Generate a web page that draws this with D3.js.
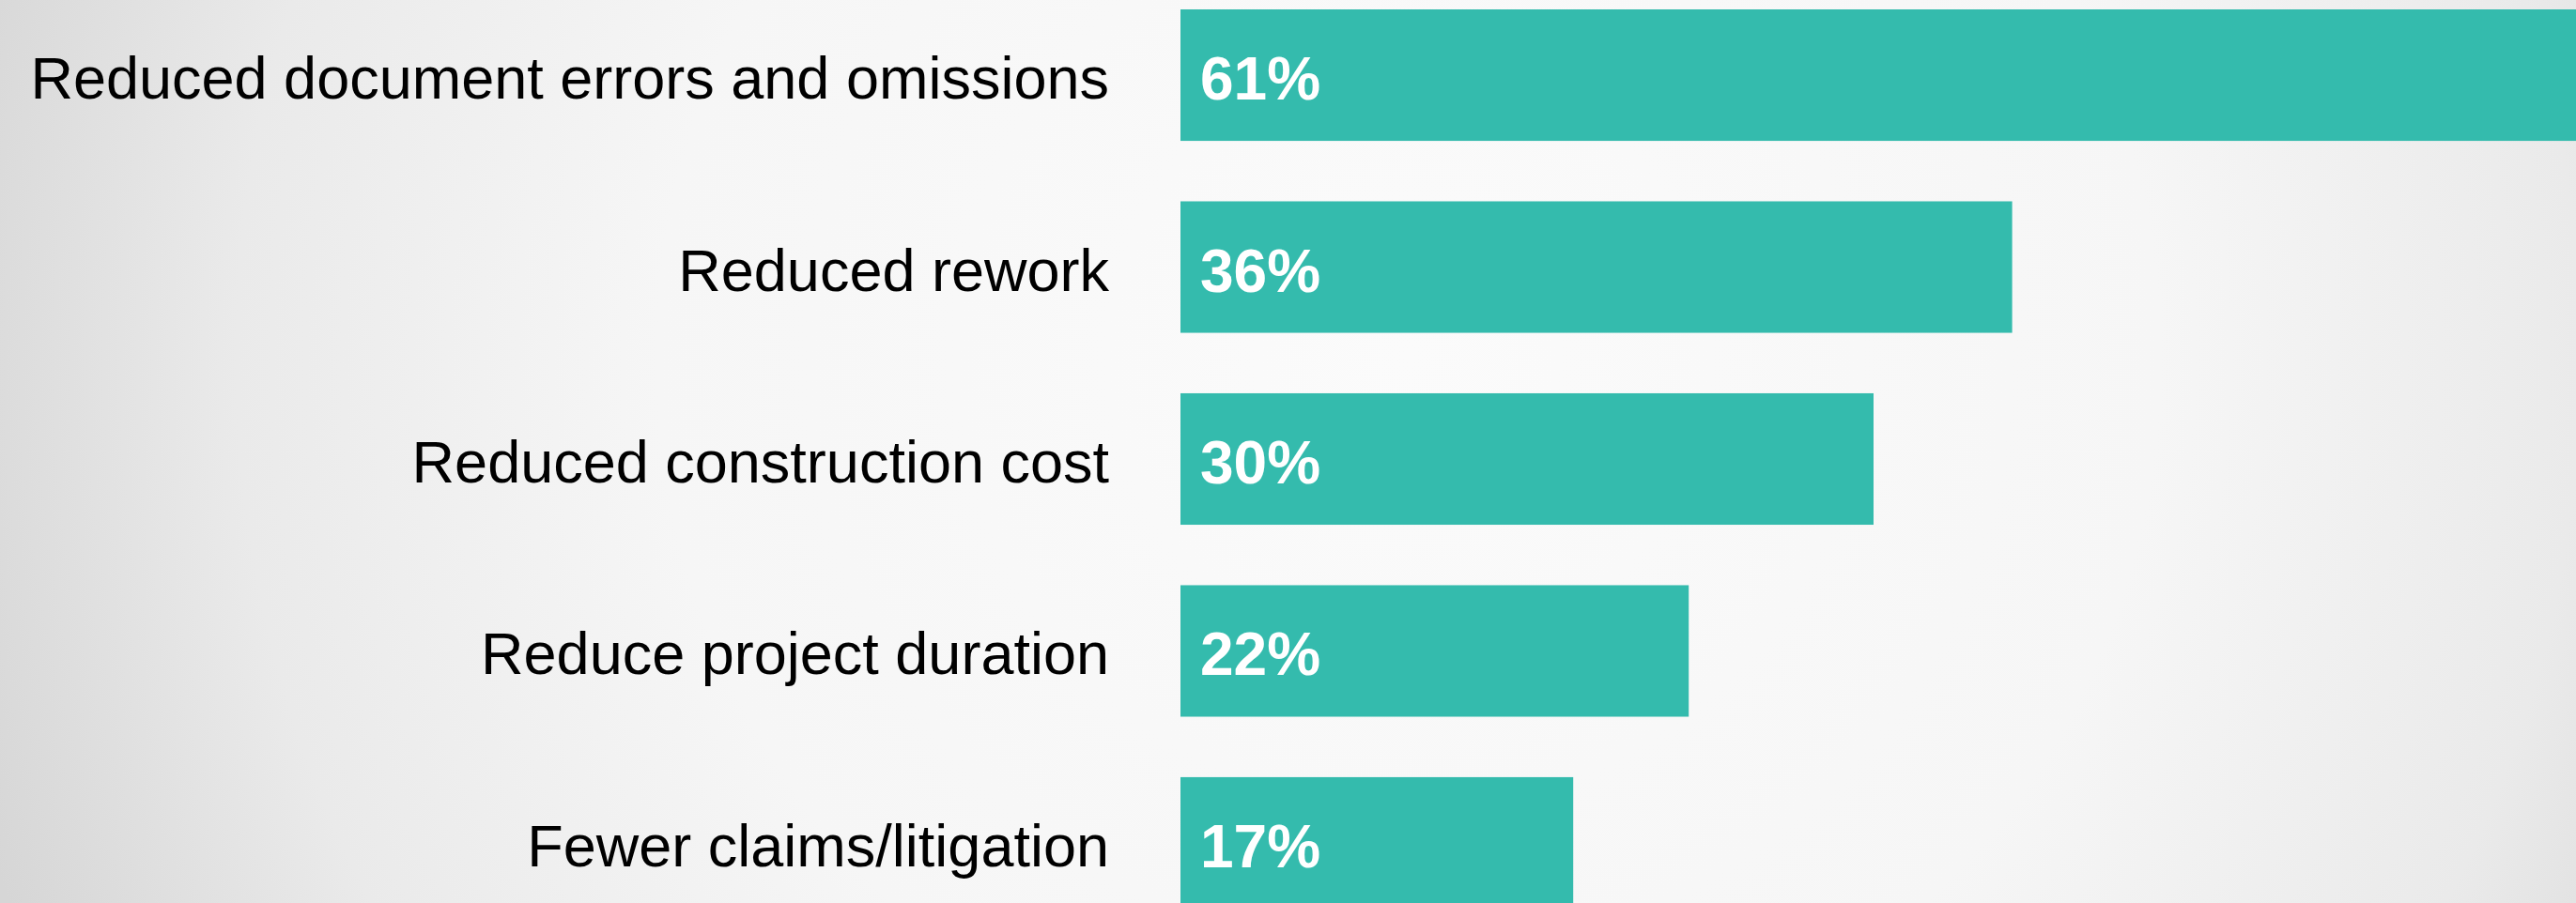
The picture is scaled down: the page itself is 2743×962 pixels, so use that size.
<!DOCTYPE html>
<html>
<head>
<meta charset="utf-8">
<script src="https://cdn.jsdelivr.net/npm/d3@7"></script>
<style>
    body { margin: 0; overflow: hidden; }
    svg { display: block; }
</style>
</head>
<body>
<div id="chart"></div>
<script>
// data
let categories = [
    "Reduced document errors and omissions",
    "Reduced rework",
    "Reduced construction cost",
    "Reduce project duration",
    "Fewer claims/litigation"
];
let values = [61, 36, 30, 22, 17];

let width = 2743,
    height = 962;

let svg = d3.select("#chart").append("svg")
    .attr("width", width)
    .attr("height", height);

// soft grey radial background
let grad = svg.append("defs").append("radialGradient")
    .attr("id", "bg")
    .attr("gradientUnits", "userSpaceOnUse")
    .attr("cx", 1500)
    .attr("cy", 380)
    .attr("r", 1600);

grad.append("stop").attr("offset", "0%").attr("stop-color", "#fbfbfb");
grad.append("stop").attr("offset", "50%").attr("stop-color", "#f6f6f6");
grad.append("stop").attr("offset", "78%").attr("stop-color", "#eaeaea");
grad.append("stop").attr("offset", "100%").attr("stop-color", "#d6d6d6");

svg.append("rect")
    .attr("width", width)
    .attr("height", height)
    .attr("fill", "url(#bg)");

// scales
let x = d3.scaleLinear()
    .domain([0, 100])
    .range([1257, 1257 + 2460]);

let y = d3.scaleBand()
    .domain(categories)
    .range([10, 968])
    .paddingInner(0.315)
    .paddingOuter(0);

let rows = categories.map((c, i) => ({name: c, value: values[i]}));

// bars
svg.selectAll(".bar")
    .data(rows)
    .enter().append("rect")
    .attr("class", "bar")
    .attr("x", x(0))
    .attr("y", d => y(d.name))
    .attr("width", d => x(d.value) - x(0))
    .attr("height", y.bandwidth())
    .attr("fill", "#34bbad");

// category labels
svg.selectAll(".cat")
    .data(rows)
    .enter().append("text")
    .attr("class", "cat")
    .attr("x", 1181)
    .attr("y", d => y(d.name) + y.bandwidth() / 2 + 25)
    .attr("text-anchor", "end")
    .style("font-family", "'Liberation Sans', Arial, sans-serif")
    .style("font-size", "63px")
    .style("fill", "#000")
    .text(d => d.name);

// value labels
svg.selectAll(".val")
    .data(rows)
    .enter().append("text")
    .attr("class", "val")
    .attr("x", x(0) + 21)
    .attr("y", d => y(d.name) + y.bandwidth() / 2 + 26)
    .style("font-family", "'Liberation Sans', Arial, sans-serif")
    .style("font-size", "64px")
    .style("font-weight", "bold")
    .style("fill", "#fff")
    .text(d => d.value + "%");
</script>
</body>
</html>
